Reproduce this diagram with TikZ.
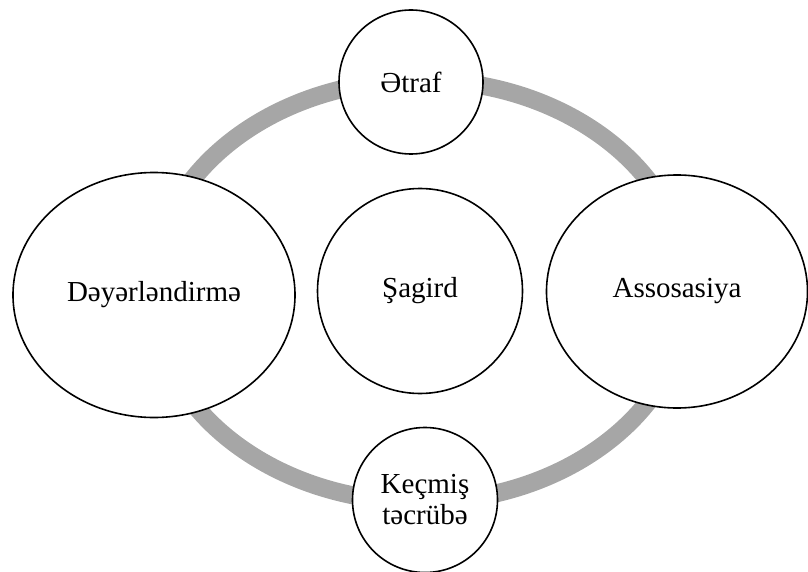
\documentclass[tikz,border=0pt]{standalone}
\usepackage{fontspec}
\setmainfont{Liberation Serif}
\usepackage{xcolor}
\usepackage{tikz}
\usetikzlibrary{shapes.geometric, positioning}
\definecolor{ringgray}{RGB}{166, 166, 166}

\tikzset{
    bubble/.style={circle, draw=black, fill=white, line width=1.6pt, inner sep=0pt,
        font=\fontsize{29}{31}\selectfont, align=center},
    oval/.style={ellipse, draw=black, fill=white, line width=1.6pt, inner sep=0pt,
        font=\fontsize{29}{31}\selectfont, align=center},
    ringline/.style={draw=ringgray, line width=18pt}
}

\begin{document}
\begin{tikzpicture}[x=1pt, y=-1pt]
    \useasboundingbox (0,0) rectangle (808,572);

    % Centre
    \coordinate (mid) at (420,291);

    % Cycle ring
    \draw[ringline] (mid) ellipse [x radius=268, y radius=211];

    % Centre node
    \node[bubble, minimum size=205pt] (sagird) at (mid) {Şagird};

    % Top node
    \node[bubble, minimum size=144pt] (etraf) at (411,82) {Ətraf};

    % Left node
    \node[oval, minimum width=282pt, minimum height=245pt] (deyer) at (154,295) {Dəyərləndirmə};

    % Right node
    \node[oval, minimum width=261pt, minimum height=233pt] (assos) at (677,291.5) {Assosasiya};

    % Bottom node
    \node[bubble, minimum size=145pt] (kecmis) at (425,500) {Keçmiş\\təcrübə};
\end{tikzpicture}
\end{document}
